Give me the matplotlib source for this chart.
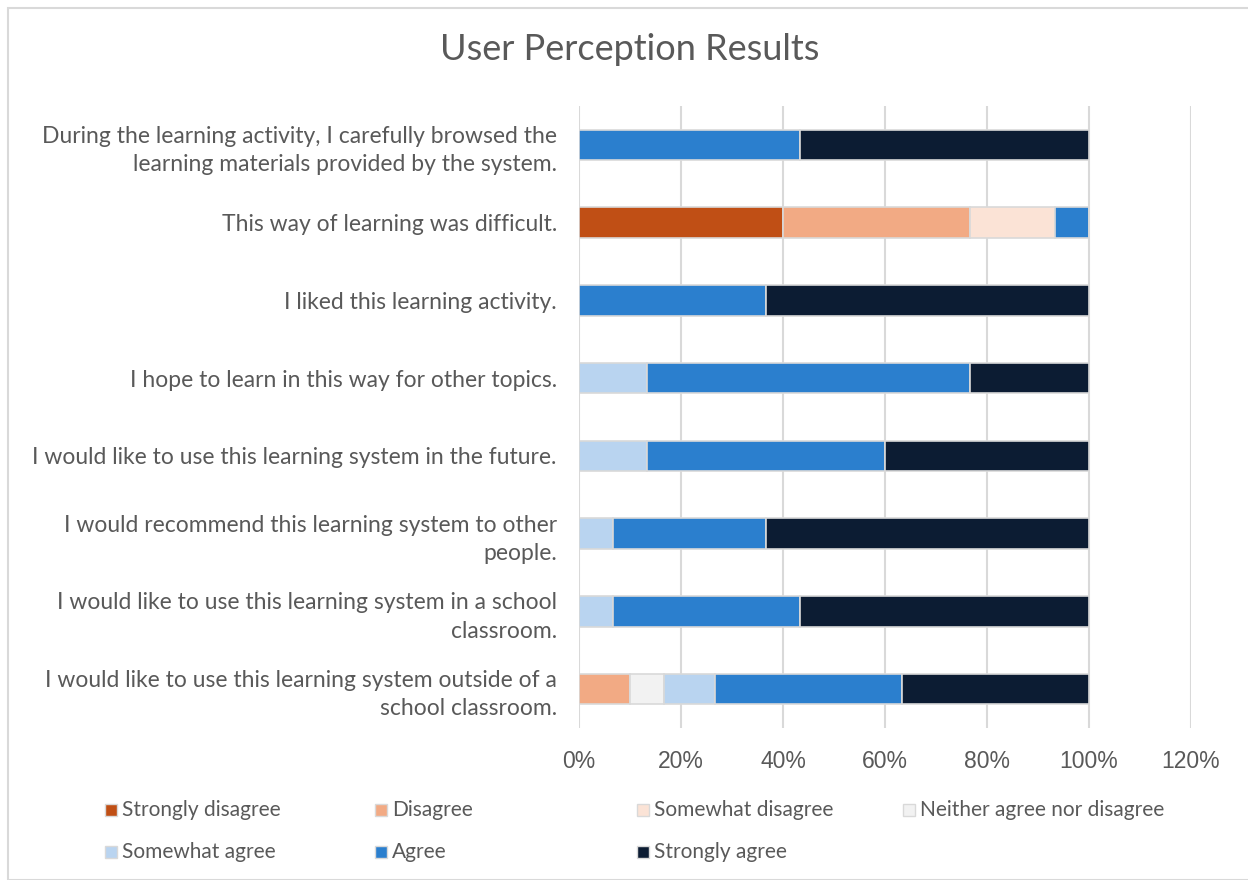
import matplotlib
matplotlib.use("Agg")
import matplotlib.pyplot as plt
from matplotlib.patches import Rectangle
from matplotlib.ticker import PercentFormatter
import numpy as np

# Survey statements (top to bottom)
statements = [
    "During the learning activity, I carefully browsed the\nlearning materials provided by the system.",
    "This way of learning was difficult.",
    "I liked this learning activity.",
    "I hope to learn in this way for other topics.",
    "I would like to use this learning system in the future.",
    "I would recommend this learning system to other\npeople.",
    "I would like to use this learning system in a school\nclassroom.",
    "I would like to use this learning system outside of a\nschool classroom.",
]

responses = [
    "Strongly disagree", "Disagree", "Somewhat disagree",
    "Neither agree nor disagree", "Somewhat agree", "Agree", "Strongly agree",
]

# Share of respondents (%) per response level, one list per level, aligned with statements
strongly_disagree = [0, 40.0, 0, 0, 0, 0, 0, 0]
disagree = [0, 36.67, 0, 0, 0, 0, 0, 10.0]
somewhat_disagree = [0, 16.67, 0, 0, 0, 0, 0, 0]
neither = [0, 0, 0, 0, 0, 0, 0, 6.67]
somewhat_agree = [0, 0, 0, 13.33, 13.33, 6.67, 6.67, 10.0]
agree = [43.33, 6.67, 36.67, 63.33, 46.67, 30.0, 36.67, 36.67]
strongly_agree = [56.67, 0, 63.33, 23.33, 40.0, 63.33, 56.67, 36.67]

series = [strongly_disagree, disagree, somewhat_disagree, neither,
          somewhat_agree, agree, strongly_agree]
colors = ["#C04F15", "#F2AA84", "#FBE3D6", "#F2F2F2",
          "#B9D4F0", "#2B7FCE", "#0C1C33"]

x_ticks = [0, 20, 40, 60, 80, 100, 120]

text_color = "#595959"
label_font = ["Lato", "DejaVu Sans"]
tick_font = ["Liberation Sans", "DejaVu Sans"]

W, H = 1248, 880
fig = plt.figure(figsize=(W / 100, H / 100), dpi=100)
fig.patch.set_facecolor("white")

# Outer chart border
fig.add_artist(Rectangle((7.5 / W, 0), 1.2, (H - 8.5) / H, transform=fig.transFigure,
                         fill=False, edgecolor="#D9D9D9", linewidth=1.5))

ax = fig.add_axes([579 / W, 1 - 728 / H, (1191 - 579) / W, (728 - 106) / H])

y = np.arange(len(statements))
left = np.zeros(len(statements))
for vals, col in zip(series, colors):
    v = np.array(vals, dtype=float)
    ax.barh(y, v, left=left, height=0.39, color=col,
            edgecolor="#D9D9D9", linewidth=1.2, zorder=3)
    left += v

ax.set_xlim(0, 120)
ax.set_ylim(len(statements) - 0.5, -0.5)
ax.set_xticks(x_ticks)
ax.xaxis.set_major_formatter(PercentFormatter(decimals=0))
ax.grid(axis="x", color="#D9D9D9", linewidth=1.5, zorder=0)
for s in ax.spines.values():
    s.set_visible(False)
ax.tick_params(axis="both", length=0)
ax.tick_params(axis="x", pad=16)
ax.tick_params(axis="y", pad=16)
for lbl in ax.get_xticklabels():
    lbl.set_fontfamily(tick_font)
    lbl.set_fontsize(16.5)
    lbl.set_color(text_color)

ax.set_yticks(y)
ax.set_yticklabels(statements, fontsize=16.5, color=text_color,
                   family=label_font, linespacing=1.42, multialignment="right")
for lbl in ax.get_yticklabels():
    if "\n" in lbl.get_text():
        lbl.set_y(lbl.get_position()[1])

fig.text(630 / W, 1 - 50 / H, "User Perception Results", ha="center", va="center",
         fontsize=26, color=text_color, family=label_font)

# Legend laid out in a fixed 4-column grid
col_x = [105, 375, 637, 903]
row_y = [810, 852]
for i, (name, col) in enumerate(zip(responses, colors)):
    cx = col_x[i % 4]
    cy = row_y[i // 4]
    fig.add_artist(Rectangle(((cx) / W, 1 - (cy + 6) / H), 12 / W, 12 / H,
                             transform=fig.transFigure, facecolor=col,
                             edgecolor="#D9D9D9", linewidth=1))
    fig.text((cx + 17) / W, 1 - cy / H, name, ha="left", va="center",
             fontsize=15, color=text_color, family=label_font)

fig.savefig("out.png", dpi=100)
